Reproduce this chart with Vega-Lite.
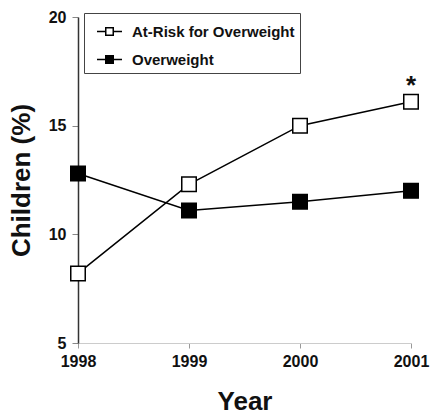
{
  "$schema": "https://vega.github.io/schema/vega-lite/v6.json",
  "autosize": {"type": "none"},
  "padding": {"left": 78, "top": 17, "right": 20, "bottom": 72},
  "width": 333,
  "height": 326,
  "background": "white",
  "config": {
    "view": {"stroke": null},
    "font": "Liberation Sans",
    "axis": {"grid": false, "labelFont": "Liberation Sans", "titleFont": "Liberation Sans", "labelFontWeight": "bold", "titleFontWeight": "bold", "labelColor": "#111", "titleColor": "#111"}
  },
  "data": {
    "values": [
      {"year": 1998, "pct": 8.2, "series": "At-Risk for Overweight", "label": ""},
      {"year": 1999, "pct": 12.3, "series": "At-Risk for Overweight", "label": ""},
      {"year": 2000, "pct": 15.0, "series": "At-Risk for Overweight", "label": ""},
      {"year": 2001, "pct": 16.1, "series": "At-Risk for Overweight", "label": "*"},
      {"year": 1998, "pct": 12.8, "series": "Overweight", "label": ""},
      {"year": 1999, "pct": 11.1, "series": "Overweight", "label": ""},
      {"year": 2000, "pct": 11.5, "series": "Overweight", "label": ""},
      {"year": 2001, "pct": 12.0, "series": "Overweight", "label": ""}
    ]
  },
  "encoding": {
    "x": {
      "field": "year", "type": "quantitative",
      "scale": {"domain": [1998, 2001], "nice": false, "zero": false},
      "axis": {"values": [1998, 1999, 2000, 2001], "format": "d", "title": "Year", "labelFontSize": 16, "titleFontSize": 26, "labelPadding": 5, "titlePadding": 19, "domainColor": "#cccccc", "domainWidth": 1, "tickColor": "#999999", "tickSize": 5, "labelFlush": false}
    },
    "y": {
      "field": "pct", "type": "quantitative",
      "scale": {"domain": [5, 20], "nice": false, "zero": false},
      "axis": {"values": [5, 10, 15, 20], "title": "Children (%)", "labelFontSize": 16, "titleFontSize": 26, "labelPadding": 6, "titlePadding": 14, "domainColor": "#333333", "domainWidth": 1.5, "tickColor": "#888888", "tickSize": 6}
    }
  },
  "layer": [
    {
      "mark": {"type": "line", "color": "black", "strokeWidth": 1.5},
      "encoding": {"detail": {"field": "series"}}
    },
    {
      "mark": {"type": "point", "shape": "square", "size": 210, "filled": true, "stroke": "black", "strokeWidth": 1.5, "opacity": 1},
      "encoding": {
        "fill": {
          "field": "series", "type": "nominal",
          "scale": {"domain": ["At-Risk for Overweight", "Overweight"], "range": ["white", "black"]},
          "legend": {
            "title": null,
            "orient": "none",
            "legendX": 6,
            "legendY": -4,
            "symbolType": "M-1,0H-0.3M0.3,0H1M-0.3,-0.3H0.3V0.3H-0.3Z",
            "symbolSize": 625,
            "symbolStrokeColor": "black",
            "symbolStrokeWidth": 1.5,
            "symbolOffset": 7,
            "labelFont": "Liberation Sans",
            "labelFontWeight": "bold",
            "labelFontSize": 15,
            "labelLimit": 400,
            "labelColor": "#111",
            "labelOffset": 9,
            "rowPadding": 6,
            "padding": 5,
            "strokeColor": "#444444",
            "fillColor": "white",
            "encode": {"symbols": {"update": {"stroke": {"value": "black"}, "strokeWidth": {"value": 1.5}}}}
          }
        }
      }
    },
    {
      "transform": [{"filter": "datum.label != ''"}],
      "mark": {"type": "text", "font": "Liberation Sans", "fontWeight": "bold", "fontSize": 26, "dy": -8, "baseline": "alphabetic", "color": "#111"},
      "encoding": {"text": {"field": "label"}}
    }
  ]
}
